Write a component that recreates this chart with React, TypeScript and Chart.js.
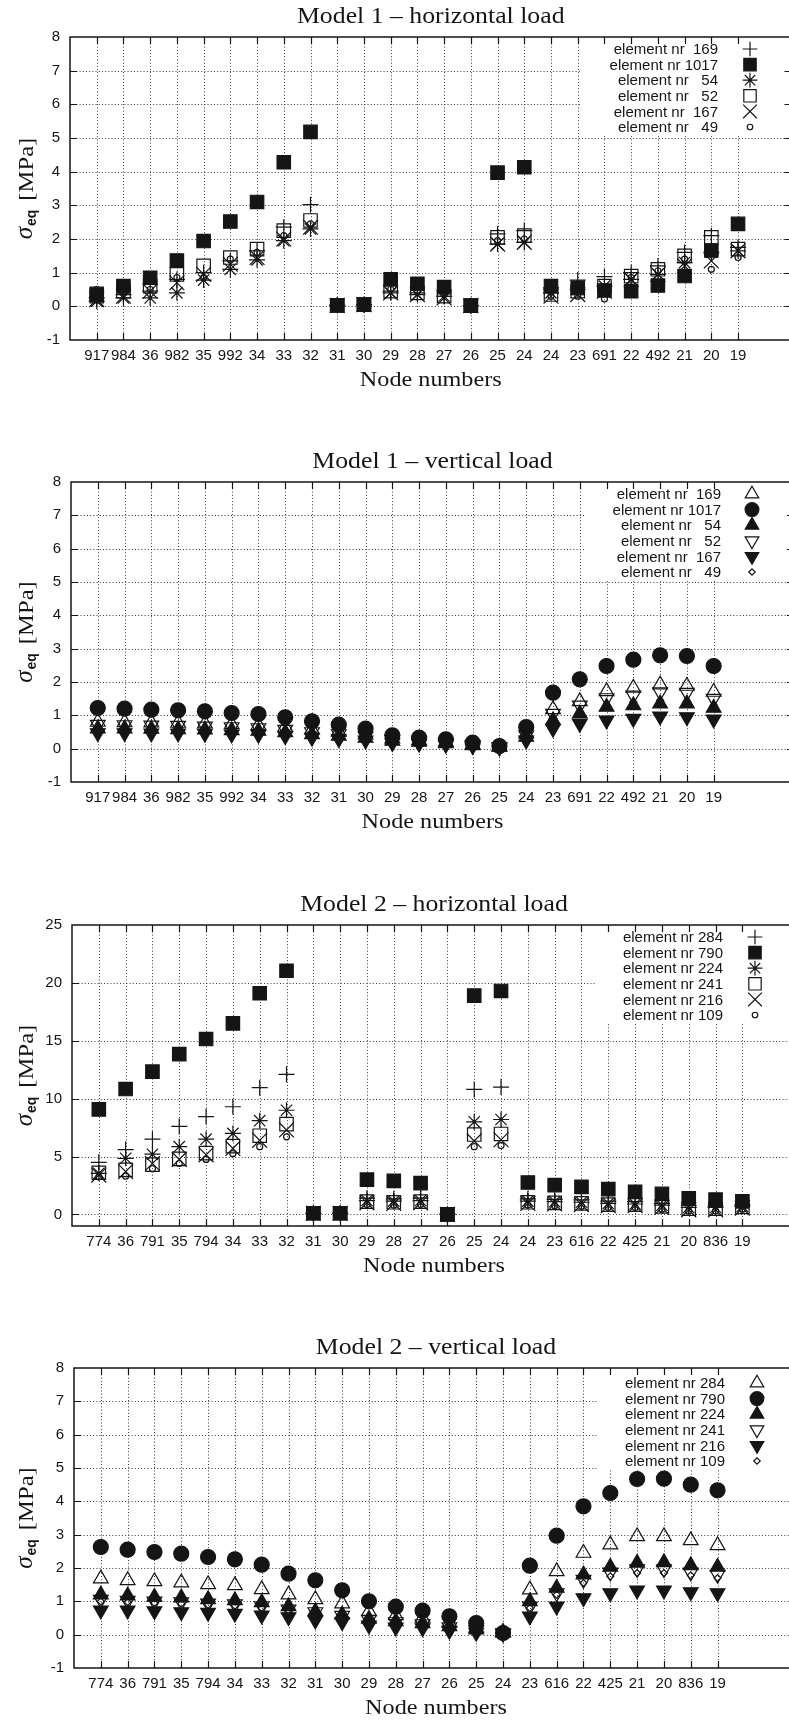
import React, { useEffect, useRef } from 'react';
import { Chart, registerables } from 'chart.js';
import { drawPoint } from 'chart.js/helpers';

Chart.register(...registerables);

// ---------------- data ----------------
const nodesM1H = ['917','984','36','982','35','992','34','33','32','31','30','29','28','27','26','25','24','24','23','691','22','492','21','20','19'];
const m1h_e169 = [0.25,0.35,0.45,0.8,1.0,1.35,1.65,2.35,3.02,0.03,0.05,0.45,0.4,0.3,0.02,2.15,2.25,0.55,0.78,0.88,1.0,1.2,1.6,2.1,1.75];
const m1h_e1017 = [0.37,0.6,0.85,1.36,1.94,2.52,3.1,4.28,5.18,0.03,0.05,0.8,0.67,0.57,0.02,3.97,4.13,0.6,0.55,0.47,0.45,0.62,0.9,1.66,2.45];
const m1h_e54 = [0.15,0.25,0.25,0.4,0.78,1.1,1.38,1.95,2.3,0.03,0.05,0.4,0.35,0.3,0.02,1.85,1.9,0.4,0.5,0.6,0.8,0.95,1.3,1.6,1.65];
const m1h_e52 = [0.3,0.45,0.6,0.95,1.2,1.45,1.7,2.25,2.55,0.03,0.05,0.45,0.4,0.3,0.02,2.05,2.1,0.35,0.45,0.6,0.9,1.1,1.5,2.05,1.7];
const m1h_e167 = [0.2,0.3,0.45,0.7,0.95,1.25,1.45,2.0,2.35,0.03,0.05,0.4,0.35,0.25,0.02,1.85,1.9,0.3,0.35,0.45,0.8,0.95,1.2,1.35,1.65];
const m1h_e49 = [0.5,0.45,0.5,0.85,0.85,1.4,1.6,2.1,2.45,0.03,0.05,0.5,0.45,0.35,0.02,1.95,2.0,0.3,0.3,0.22,0.85,1.05,1.4,1.1,1.45];

const nodesM1V = ['917','984','36','982','35','992','34','33','32','31','30','29','28','27','26','25','24','23','691','22','492','21','20','19'];
const m1v_e169 = [0.8,0.79,0.78,0.77,0.75,0.73,0.7,0.65,0.57,0.5,0.42,0.3,0.25,0.2,0.13,0.06,0.45,1.18,1.42,1.72,1.82,1.92,1.88,1.7];
const m1v_e1017 = [1.22,1.2,1.17,1.15,1.12,1.07,1.04,0.94,0.82,0.72,0.6,0.4,0.33,0.28,0.18,0.08,0.65,1.68,2.08,2.48,2.67,2.8,2.78,2.48];
const m1v_e54 = [0.6,0.6,0.59,0.58,0.57,0.55,0.53,0.49,0.43,0.38,0.32,0.23,0.2,0.16,0.1,0.05,0.35,0.85,1.05,1.25,1.3,1.35,1.35,1.22];
const m1v_e52 = [0.72,0.71,0.7,0.69,0.67,0.65,0.62,0.57,0.5,0.44,0.37,0.27,0.22,0.18,0.11,0.05,0.4,1.05,1.3,1.52,1.6,1.7,1.68,1.5];
const m1v_e167 = [0.47,0.47,0.46,0.46,0.45,0.43,0.42,0.38,0.33,0.29,0.25,0.17,0.15,0.12,0.08,0.04,0.25,0.6,0.75,0.85,0.9,0.97,0.95,0.88];
const m1v_e49 = [0.65,0.65,0.64,0.63,0.62,0.6,0.57,0.53,0.47,0.41,0.35,0.25,0.21,0.17,0.1,0.05,0.38,0.9,1.1,1.3,1.4,1.45,1.42,1.3];

const nodesM2H = ['774','36','791','35','794','34','33','32','31','30','29','28','27','26','25','24','24','23','616','22','425','21','20','836','19'];
const m2h_e284 = [4.5,5.6,6.5,7.6,8.45,9.3,10.95,12.1,0.1,0.1,1.4,1.35,1.4,0.0,10.8,11.0,1.35,1.3,1.25,1.15,1.1,0.95,0.75,0.75,0.85];
const m2h_e790 = [9.07,10.83,12.33,13.85,15.15,16.5,19.1,21.05,0.1,0.1,3.0,2.9,2.7,0.0,18.9,19.3,2.76,2.53,2.38,2.18,1.95,1.77,1.4,1.28,1.13];
const m2h_e224 = [3.55,4.85,5.2,5.85,6.5,7.0,8.1,9.0,0.1,0.1,1.2,1.15,1.2,0.0,8.0,8.2,1.15,1.1,1.05,0.95,0.9,0.8,0.6,0.6,0.7];
const m2h_e241 = [3.6,3.85,4.3,4.8,5.3,5.9,6.8,7.8,0.1,0.1,1.1,1.05,1.1,0.0,6.9,6.95,1.05,1.0,0.95,0.85,0.85,0.7,0.5,0.5,0.65];
const m2h_e216 = [3.4,3.7,4.4,4.75,5.15,5.7,6.4,7.3,0.1,0.1,1.0,0.95,1.0,0.0,6.35,6.45,0.95,0.9,0.85,0.75,0.75,0.6,0.4,0.4,0.55];
const m2h_e109 = [3.25,3.3,3.95,4.4,4.75,5.25,5.85,6.7,0.1,0.1,0.85,0.8,0.85,0.0,5.85,5.95,0.8,0.75,0.7,0.6,0.6,0.45,0.3,0.3,0.45];

const nodesM2V = ['774','36','791','35','794','34','33','32','31','30','29','28','27','26','25','24','23','616','22','425','21','20','836','19'];
const m2v_e284 = [1.68,1.63,1.6,1.56,1.51,1.48,1.36,1.2,1.06,0.93,0.7,0.58,0.5,0.35,0.2,0.05,1.35,1.9,2.45,2.7,2.95,2.95,2.83,2.68];
const m2v_e790 = [2.63,2.55,2.48,2.43,2.33,2.26,2.1,1.83,1.63,1.33,1.0,0.84,0.72,0.55,0.35,0.05,2.07,2.97,3.85,4.25,4.67,4.68,4.5,4.33];
const m2v_e224 = [1.2,1.17,1.13,1.11,1.06,1.03,0.97,0.85,0.7,0.6,0.47,0.4,0.34,0.25,0.15,0.08,1.0,1.4,1.8,2.03,2.15,2.17,2.08,2.03];
const m2v_e241 = [1.05,1.02,1.0,0.98,0.94,0.92,0.86,0.76,0.68,0.57,0.45,0.38,0.32,0.23,0.13,0.05,0.85,1.25,1.65,1.87,1.97,1.97,1.87,1.8];
const m2v_e216 = [0.73,0.73,0.71,0.68,0.66,0.63,0.58,0.53,0.43,0.38,0.28,0.22,0.2,0.12,0.06,0.03,0.55,0.85,1.1,1.25,1.33,1.33,1.28,1.25];
const m2v_e109 = [1.0,0.98,0.95,0.93,0.9,0.87,0.8,0.72,0.6,0.52,0.42,0.36,0.3,0.22,0.12,0.05,0.8,1.2,1.55,1.75,1.85,1.85,1.78,1.7];

const legendM1 = ['element nr  169','element nr 1017','element nr   54','element nr   52','element nr  167','element nr   49'];
const legendM2 = ['element nr 284','element nr 790','element nr 224','element nr 241','element nr 216','element nr 109'];

const yTicksSmall = [-1, 0, 1, 2, 3, 4, 5, 6, 7, 8];
const yTicksLarge = [0, 5, 10, 15, 20, 25];

// ---------------- styling ----------------
const SERIF = '"Liberation Serif", "Times New Roman", serif';
const SANS = '"Liberation Sans", Arial, Helvetica, sans-serif';
const INK = '#151515';
const CW = 810;

type Marker = { pointStyle: string; radius: number; fill: boolean; rotation?: number };

const MARKERS_H: Marker[] = [
  { pointStyle: 'cross', radius: 8, fill: false },
  { pointStyle: 'rect', radius: 9.5, fill: true },
  { pointStyle: 'star', radius: 8, fill: false },
  { pointStyle: 'rect', radius: 9.5, fill: false },
  { pointStyle: 'crossRot', radius: 10.5, fill: false },
  { pointStyle: 'circle', radius: 3, fill: false },
];
const MARKERS_V: Marker[] = [
  { pointStyle: 'triangle', radius: 8.5, fill: false },
  { pointStyle: 'circle', radius: 7.5, fill: true },
  { pointStyle: 'triangle', radius: 8.5, fill: true },
  { pointStyle: 'triangle', radius: 8.5, fill: false, rotation: 180 },
  { pointStyle: 'triangle', radius: 8.5, fill: true, rotation: 180 },
  { pointStyle: 'rectRot', radius: 3.5, fill: false },
];

interface PanelDef {
  top: number; height: number;
  plotTop: number; plotBottom: number; plotLeft: number; plotRight: number;
  title: string;
  nodes: string[];
  series: number[][];
  legend: string[];
  markers: Marker[];
  yMin: number; yMax: number; yTicks: number[];
  legendRight: number; symbolX: number; legendFirst: number;
}

const PANELS: PanelDef[] = [
  {
    top: 0, height: 430, plotTop: 37, plotBottom: 340, plotLeft: 70, plotRight: 791.5,
    title: 'Model 1 – horizontal load', nodes: nodesM1H,
    series: [m1h_e169, m1h_e1017, m1h_e54, m1h_e52, m1h_e167, m1h_e49],
    legend: legendM1, markers: MARKERS_H, yMin: -1, yMax: 8, yTicks: yTicksSmall,
    legendRight: 718, symbolX: 750, legendFirst: 12,
  },
  {
    top: 430, height: 440, plotTop: 52, plotBottom: 352, plotLeft: 71, plotRight: 794,
    title: 'Model 1 – vertical load', nodes: nodesM1V,
    series: [m1v_e169, m1v_e1017, m1v_e54, m1v_e52, m1v_e167, m1v_e49],
    legend: legendM1, markers: MARKERS_V, yMin: -1, yMax: 8, yTicks: yTicksSmall,
    legendRight: 721, symbolX: 752, legendFirst: 12,
  },
  {
    top: 870, height: 440, plotTop: 55, plotBottom: 356, plotLeft: 72, plotRight: 796,
    title: 'Model 2 – horizontal load', nodes: nodesM2H,
    series: [m2h_e284, m2h_e790, m2h_e224, m2h_e241, m2h_e216, m2h_e109],
    legend: legendM2, markers: MARKERS_H, yMin: -1, yMax: 25, yTicks: yTicksLarge,
    legendRight: 723, symbolX: 755, legendFirst: 12,
  },
  {
    top: 1310, height: 410, plotTop: 58, plotBottom: 358, plotLeft: 74, plotRight: 798,
    title: 'Model 2 – vertical load', nodes: nodesM2V,
    series: [m2v_e284, m2v_e790, m2v_e224, m2v_e241, m2v_e216, m2v_e109],
    legend: legendM2, markers: MARKERS_V, yMin: -1, yMax: 8, yTicks: yTicksSmall,
    legendRight: 725, symbolX: 757, legendFirst: 15,
  },
];

function drawStretched(ctx: CanvasRenderingContext2D, text: string, cx: number, cy: number, font: string, stretch: number) {
  ctx.save();
  ctx.font = font;
  ctx.textAlign = 'center';
  ctx.textBaseline = 'middle';
  ctx.translate(cx, cy);
  ctx.scale(stretch, 1);
  ctx.fillText(text, 0, 0);
  ctx.restore();
}

function makeFrame(p: PanelDef) {
  return {
    id: 'gnuFrame',
    beforeDatasetsDraw(chart: any) {
      const ctx: CanvasRenderingContext2D = chart.ctx;
      const a = chart.chartArea;
      const xs = chart.scales.x;
      const ys = chart.scales.y;
      ctx.save();
      // dotted grid
      ctx.strokeStyle = '#3a3a3a';
      ctx.lineWidth = 1;
      ctx.setLineDash([1, 2.2]);
      ctx.beginPath();
      xs.ticks.forEach((t: any) => {
        const px = Math.round(xs.getPixelForValue(t.value)) + 0.5;
        ctx.moveTo(px, a.top);
        ctx.lineTo(px, a.bottom);
      });
      ys.ticks.forEach((t: any) => {
        if (t.value <= p.yMin || t.value >= p.yMax) return;
        const py = Math.round(ys.getPixelForValue(t.value)) + 0.5;
        ctx.moveTo(a.left, py);
        ctx.lineTo(a.right, py);
      });
      ctx.stroke();
      ctx.setLineDash([]);

      // opaque key box
      ctx.font = `15px ${SANS}`;
      const maxW = Math.max(...p.legend.map((s) => ctx.measureText(s).width));
      const rowH = 15.6;
      const n = p.legend.length;
      const y0 = a.top + p.legendFirst;
      const boxLeft = p.legendRight - maxW - 28;
      const boxBottom = y0 + rowH * (n - 1) + 9;
      ctx.fillStyle = '#ffffff';
      ctx.fillRect(boxLeft, a.top + 1, a.right - boxLeft - 1, boxBottom - a.top - 1);

      // border
      ctx.strokeStyle = INK;
      ctx.lineWidth = 1.5;
      ctx.strokeRect(a.left, a.top, a.right - a.left, a.bottom - a.top);
      // inward tics (mirrored)
      ctx.lineWidth = 1.2;
      ctx.beginPath();
      xs.ticks.forEach((t: any) => {
        const px = Math.round(xs.getPixelForValue(t.value)) + 0.5;
        ctx.moveTo(px, a.bottom);
        ctx.lineTo(px, a.bottom - 7);
        ctx.moveTo(px, a.top);
        ctx.lineTo(px, a.top + 7);
      });
      ys.ticks.forEach((t: any) => {
        if (t.value <= p.yMin || t.value >= p.yMax) return;
        const py = Math.round(ys.getPixelForValue(t.value)) + 0.5;
        ctx.moveTo(a.left, py);
        ctx.lineTo(a.left + 7, py);
        ctx.moveTo(a.right, py);
        ctx.lineTo(a.right - 7, py);
      });
      ctx.stroke();

      // key entries
      ctx.fillStyle = INK;
      ctx.textAlign = 'right';
      ctx.textBaseline = 'middle';
      p.legend.forEach((s, i) => {
        const ly = y0 + rowH * i;
        ctx.fillStyle = INK;
        ctx.font = `15px ${SANS}`;
        ctx.fillText(s, p.legendRight, ly + 1);
        const m = p.markers[i];
        ctx.strokeStyle = INK;
        ctx.fillStyle = m.fill ? INK : 'rgba(0,0,0,0)';
        ctx.lineWidth = 1.2;
        drawPoint(ctx, { pointStyle: m.pointStyle as any, radius: m.radius * 0.92, rotation: m.rotation || 0, borderWidth: 1.2 } as any, p.symbolX, ly);
      });
      ctx.restore();
    },
    afterDraw(chart: any) {
      const ctx: CanvasRenderingContext2D = chart.ctx;
      const a = chart.chartArea;
      const cx = (a.left + a.right) / 2;
      ctx.save();
      ctx.fillStyle = INK;
      drawStretched(ctx, p.title, cx, a.top - 20, `23px ${SERIF}`, 1.12);
      drawStretched(ctx, 'Node numbers', cx, a.bottom + 40, `22px ${SERIF}`, 1.1);

      // rotated y label:  σ_eq [MPa]
      ctx.translate(26, (a.top + a.bottom) / 2);
      ctx.rotate(-Math.PI / 2);
      ctx.textBaseline = 'alphabetic';
      ctx.textAlign = 'left';
      ctx.font = `italic 25px ${SERIF}`;
      const w1 = ctx.measureText('σ').width;
      ctx.font = `bold 14px ${SANS}`;
      const w2 = ctx.measureText('eq').width;
      ctx.font = `22px ${SERIF}`;
      const w3 = ctx.measureText('[MPa]').width * 1.12;
      const gap = 9;
      const total = w1 + 1 + w2 + gap + w3;
      let x = -total / 2;
      ctx.font = `italic 25px ${SERIF}`;
      ctx.fillText('σ', x, 6);
      x += w1 + 1;
      ctx.font = `bold 14px ${SANS}`;
      ctx.fillText('eq', x, 10);
      x += w2 + gap;
      ctx.font = `22px ${SERIF}`;
      ctx.save();
      ctx.translate(x, 0);
      ctx.scale(1.12, 1);
      ctx.fillText('[MPa]', 0, 7);
      ctx.restore();
      ctx.restore();
    },
  };
}

function buildConfig(p: PanelDef): any {
  const datasets = p.series.map((vals, si) => {
    const m = p.markers[si];
    return {
      label: p.legend[si],
      data: vals.map((v, i) => ({ x: i + 1, y: v })),
      showLine: false,
      pointStyle: m.pointStyle,
      pointRadius: m.radius,
      pointHoverRadius: m.radius,
      pointRotation: m.rotation || 0,
      pointBorderColor: INK,
      pointBackgroundColor: m.fill ? INK : 'rgba(0,0,0,0)',
      pointBorderWidth: 1.2,
      order: p.series.length - si,
    };
  });
  return {
    type: 'scatter',
    data: { datasets },
    options: {
      responsive: false,
      maintainAspectRatio: false,
      devicePixelRatio: 1,
      animation: false,
      events: [],
      layout: { padding: { top: p.plotTop, left: 0, right: CW - p.plotRight, bottom: 0 } },
      plugins: { legend: { display: false }, tooltip: { enabled: false }, title: { display: false } },
      scales: {
        x: {
          type: 'linear',
          position: 'bottom',
          min: 0,
          max: 27,
          grid: { display: false, drawTicks: false },
          border: { display: false },
          afterBuildTicks: (s: any) => {
            s.ticks = p.nodes.map((_, i) => ({ value: i + 1 }));
          },
          afterFit: (s: any) => {
            s.height = p.height - p.plotBottom;
          },
          ticks: {
            autoSkip: false,
            maxRotation: 0,
            minRotation: 0,
            padding: 7,
            color: INK,
            font: { family: SANS, size: 15 },
            callback: (_v: any, i: number) => p.nodes[i],
          },
        },
        y: {
          type: 'linear',
          position: 'left',
          min: p.yMin,
          max: p.yMax,
          grid: { display: false, drawTicks: false },
          border: { display: false },
          afterBuildTicks: (s: any) => {
            s.ticks = p.yTicks.map((v) => ({ value: v }));
          },
          afterFit: (s: any) => {
            s.width = p.plotLeft;
          },
          ticks: {
            padding: 10,
            color: INK,
            font: { family: SANS, size: 15 },
            callback: (v: any) => String(v),
          },
        },
      },
    },
    plugins: [makeFrame(p)],
  };
}

function Panel({ p }: { p: PanelDef }) {
  const ref = useRef<HTMLCanvasElement>(null);
  useEffect(() => {
    if (!ref.current) return;
    const chart = new Chart(ref.current, buildConfig(p));
    return () => chart.destroy();
  }, [p]);
  return (
    <canvas
      ref={ref}
      width={CW}
      height={p.height}
      style={{ position: 'absolute', left: 0, top: p.top, width: CW, height: p.height, display: 'block' }}
    />
  );
}

export default function App() {
  return (
    <div
      style={{
        position: 'absolute',
        left: 0,
        top: 0,
        width: 789,
        height: 1720,
        overflow: 'hidden',
        background: '#ffffff',
      }}
    >
      {PANELS.map((p, i) => (
        <Panel key={i} p={p} />
      ))}
    </div>
  );
}
